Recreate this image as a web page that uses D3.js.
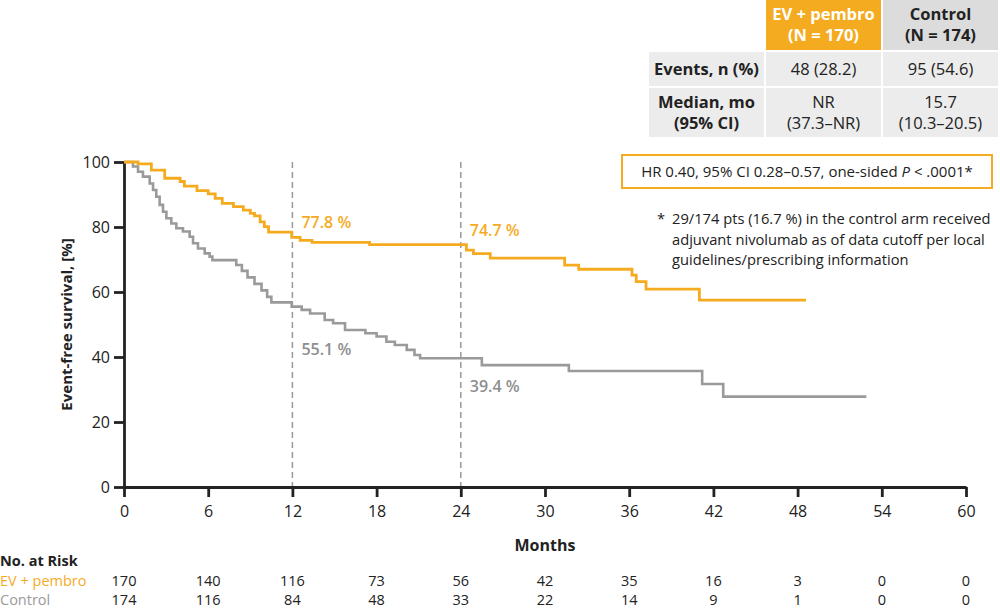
<!DOCTYPE html>
<html>
<head>
<meta charset="utf-8">
<script src="https://cdn.jsdelivr.net/npm/d3@7/dist/d3.min.js"></script>
<style>
  body { margin: 0; background: #fff; }
  svg { font-family: "Open Sans", "Noto Sans", sans-serif; }
</style>
</head>
<body>
<div id="chart"></div>
<script>
// x ticks and numbers at risk
const months = [0, 6, 12, 18, 24, 30, 36, 42, 48, 54, 60];
const riskEV = [170, 140, 116, 73, 56, 42, 35, 16, 3, 0, 0];
const riskCtrl = [174, 116, 84, 48, 33, 22, 14, 9, 1, 0, 0];
const yTicks = [0, 20, 40, 60, 80, 100];

// KM steps (months, % event-free)
const evTime = [0, 1.0, 1.95, 2.9, 4.0, 4.3, 5.2, 6.0, 6.5, 7.0, 7.8, 8.5, 9.0, 9.3, 9.7, 10.0, 10.3,
  11.95, 12.55, 13.4, 17.5, 24.4, 24.9, 26.1, 31.4, 32.4, 36.2, 36.5, 37.2, 41.0, 48.6];
const evSurv = [100, 99.4, 97.5, 95.0, 94.0, 92.6, 91.2, 90.2, 88.8, 87.3, 86.3, 85.2, 84.2, 83.4, 81.6, 80.1, 78.4,
  76.8, 75.9, 75.3, 74.6, 72.9, 71.8, 70.4, 68.3, 67.0, 65.2, 63.2, 60.9, 57.5, 57.5];

const ctrlTime = [0, 0.64, 1.0, 1.35, 1.83, 2.07, 2.3, 2.54, 2.78, 3.02, 3.37, 3.73, 4.2, 4.68, 4.92, 5.27, 5.75,
  6.1, 6.3, 8.0, 8.4, 8.8, 9.3, 9.8, 10.2, 10.5, 11.95, 12.66, 13.26, 14.3, 14.9, 15.75, 17.2, 18.0, 18.7,
  19.3, 20.15, 20.7, 21.1, 25.5, 31.7, 41.2, 42.7, 52.9];
const ctrlSurv = [100, 98.6, 97.0, 95.5, 93.4, 91.4, 89.3, 86.8, 84.7, 82.7, 81.1, 79.6, 78.6, 77.0, 75.0, 73.4, 71.9,
  70.9, 69.8, 68.3, 66.5, 64.5, 62.5, 60.5, 58.5, 56.8, 55.5, 54.5, 53.4, 51.4, 50.4, 48.3, 47.3, 46.3, 44.7,
  43.7, 42.2, 40.6, 39.6, 37.5, 35.7, 31.7, 27.8, 27.8];

const landmarks = [12, 24];
const evLabels = ["77.8 %", "74.7 %"];
const ctrlLabels = ["55.1 %", "39.4 %"];

const orange = "#f5ab1f";
const grey = "#9a9a9a";
const ink = "#222";

const W = 1000, H = 610;
const svg = d3.select("#chart").append("svg").attr("width", W).attr("height", H);

const x = d3.scaleLinear().domain([0, 60]).range([124, 966]);
const y = d3.scaleLinear().domain([0, 100]).range([487, 162]);

// landmark dashed lines
svg.selectAll(".lm").data(landmarks).join("line")
  .attr("x1", d => x(d)).attr("x2", d => x(d))
  .attr("y1", y(100)).attr("y2", y(0))
  .attr("stroke", "#999").attr("stroke-width", 1.5)
  .attr("stroke-dasharray", "6,4");

// axes
const yAxis = svg.append("g").attr("transform", `translate(${x(0)},0)`)
  .call(d3.axisLeft(y).tickValues(yTicks).tickSize(10).tickSizeOuter(0).tickPadding(4));
const xAxis = svg.append("g").attr("transform", `translate(0,${y(0)})`)
  .call(d3.axisBottom(x).tickValues(months).tickSize(10).tickSizeOuter(0).tickPadding(9));
[xAxis, yAxis].forEach(a => {
  a.select(".domain").attr("stroke", ink).attr("stroke-width", 2.8);
  a.selectAll(".tick line").attr("stroke", ink).attr("stroke-width", 2.8);
  a.selectAll(".tick text").attr("fill", ink).style("font-size", "16px")
    .style("font-family", "'Open Sans', sans-serif");
});

// curves
const line = d3.line().x(d => x(d[0])).y(d => y(d[1])).curve(d3.curveStepAfter);
svg.append("path").datum(d3.zip(ctrlTime, ctrlSurv))
  .attr("d", line).attr("fill", "none").attr("stroke", grey).attr("stroke-width", 2.6);
svg.append("path").datum(d3.zip(evTime, evSurv))
  .attr("d", line).attr("fill", "none").attr("stroke", orange).attr("stroke-width", 2.8);

// landmark labels
svg.selectAll(".evl").data(landmarks).join("text")
  .attr("x", d => x(d) + 9).attr("y", (d, i) => [228, 236][i])
  .attr("fill", orange).style("font-size", "16px").style("font-weight", 600)
  .text((d, i) => evLabels[i]);
svg.selectAll(".cl").data(landmarks).join("text")
  .attr("x", d => x(d) + 9).attr("y", (d, i) => [355, 392][i])
  .attr("fill", "#8e8e8e").style("font-size", "16px").style("font-weight", 600)
  .text((d, i) => ctrlLabels[i]);

// axis titles
svg.append("text")
  .attr("transform", `translate(72,${(y(0) + y(100)) / 2}) rotate(-90)`)
  .attr("text-anchor", "middle").attr("fill", ink)
  .style("font-size", "15px").style("font-weight", 700)
  .text("Event-free survival, [%]");
svg.append("text")
  .attr("x", x(30)).attr("y", 551).attr("text-anchor", "middle").attr("fill", ink)
  .style("font-size", "16px").style("font-weight", 700)
  .text("Months");

// numbers at risk
svg.append("text").attr("x", 0).attr("y", 566).attr("fill", ink)
  .style("font-size", "14.5px").style("font-weight", 700)
  .text("No. at Risk");
const rows = [
  { name: "EV + pembro", vals: riskEV, color: orange, yy: 585.5 },
  { name: "Control", vals: riskCtrl, color: "#9a9a9a", yy: 605 }
];
rows.forEach(r => {
  svg.append("text").attr("x", 0).attr("y", r.yy).attr("fill", r.color)
    .style("font-size", "14.5px").text(r.name);
  svg.selectAll(null).data(months).join("text")
    .attr("x", d => x(d)).attr("y", r.yy).attr("text-anchor", "middle").attr("fill", ink)
    .style("font-size", "14.5px")
    .text((d, i) => r.vals[i]);
});

// HR box
svg.append("rect").attr("x", 622).attr("y", 155).attr("width", 370).attr("height", 33)
  .attr("fill", "#fff").attr("stroke", orange).attr("stroke-width", 2);
const hr = svg.append("text").attr("x", 807).attr("y", 177).attr("text-anchor", "middle")
  .attr("fill", ink).style("font-size", "15px");
hr.append("tspan").text("HR 0.40, 95% CI 0.28–0.57, one-sided ");
hr.append("tspan").style("font-style", "italic").text("P");
hr.append("tspan").text(" < .0001*");

// footnote
const foot = ["29/174 pts (16.7 %) in the control arm received",
  "adjuvant nivolumab as of data cutoff per local",
  "guidelines/prescribing information"];
svg.append("text").attr("x", 657).attr("y", 224).attr("fill", ink).style("font-size", "14.7px").text("*");
svg.selectAll(".fn").data(foot).join("text")
  .attr("x", 672).attr("y", (d, i) => 224 + i * 20.5).attr("fill", ink)
  .style("font-size", "14.7px").text(d => d);

// summary table
const colX = [649, 766, 883];
const colW = [115, 115, 115];
const rowY = [0, 52, 88];
const rowH = [50, 34, 49];
const cells = [
  [[], ["EV + pembro", "(N = 170)"], ["Control", "(N = 174)"]],
  [["Events, n (%)"], ["48 (28.2)"], ["95 (54.6)"]],
  [["Median, mo", "(95% CI)"], ["NR", "(37.3–NR)"], ["15.7", "(10.3–20.5)"]]
];
cells.forEach((row, ri) => {
  row.forEach((lines, ci) => {
    if (ri === 0 && ci === 0) return;
    let fill = "#ececec", tcol = ink, bold = ci === 0 || ri === 0;
    if (ri === 0 && ci === 1) { fill = orange; tcol = "#fff"; }
    if (ri === 0 && ci === 2) { fill = "#dcdcdc"; }
    svg.append("rect").attr("x", colX[ci]).attr("y", rowY[ri])
      .attr("width", colW[ci]).attr("height", rowH[ri]).attr("fill", fill);
    const cy = rowY[ri] + rowH[ri] / 2;
    const lh = 21;
    lines.forEach((t, li) => {
      svg.append("text").attr("x", colX[ci] + colW[ci] / 2)
        .attr("y", cy + (li - (lines.length - 1) / 2) * lh + 5.5)
        .attr("text-anchor", "middle").attr("fill", tcol)
        .style("font-size", "16.5px").style("font-weight", bold ? 700 : 400)
        .text(t);
    });
  });
});
</script>
</body>
</html>
